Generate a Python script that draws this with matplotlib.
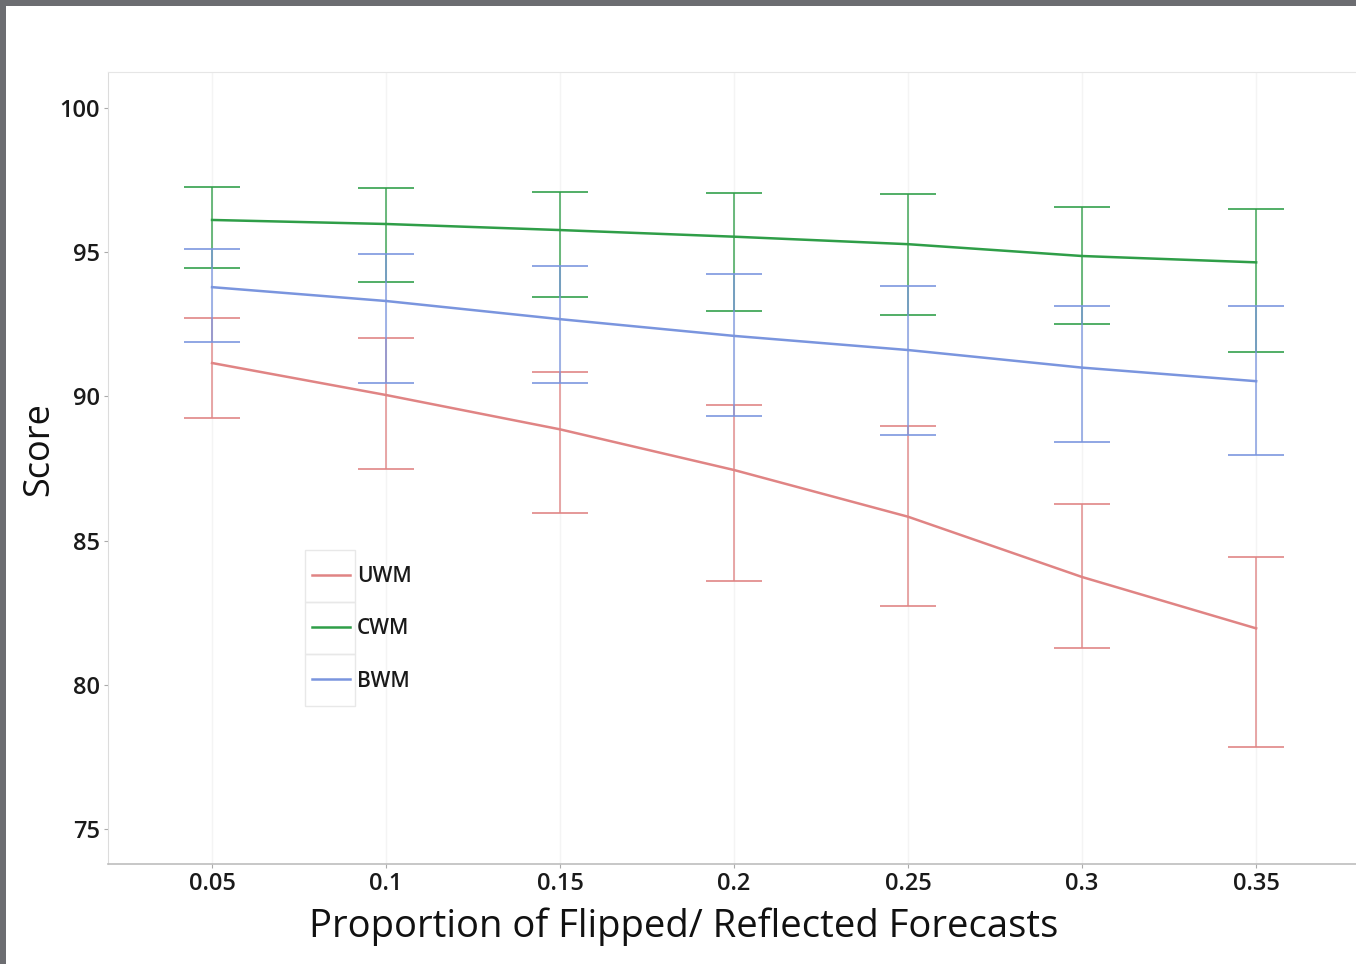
import matplotlib
matplotlib.use("Agg")
import matplotlib.pyplot as plt
from matplotlib.patches import Rectangle

# ---- data ----
proportions = [0.05, 0.10, 0.15, 0.20, 0.25, 0.30, 0.35]
tick_labels = ["0.05", "0.1", "0.15", "0.2", "0.25", "0.3", "0.35"]

uwm_mean  = [91.16, 90.05, 88.86, 87.45, 85.83, 83.74, 81.96]
uwm_upper = [92.72, 92.03, 90.85, 89.69, 88.96, 86.27, 84.44]
uwm_lower = [89.25, 87.48, 85.97, 83.59, 82.74, 81.29, 77.83]

cwm_mean  = [96.12, 95.98, 95.77, 95.54, 95.28, 94.87, 94.65]
cwm_upper = [97.26, 97.23, 97.09, 97.05, 97.02, 96.58, 96.49]
cwm_lower = [94.45, 93.97, 93.45, 92.95, 92.83, 92.53, 91.55]

bwm_mean  = [93.79, 93.31, 92.68, 92.10, 91.61, 91.00, 90.53]
bwm_upper = [95.11, 94.94, 94.52, 94.24, 93.82, 93.14, 93.12]
bwm_lower = [91.89, 90.46, 90.45, 89.31, 88.65, 88.41, 87.96]

series = [
    ("UWM", uwm_mean, uwm_lower, uwm_upper, "#e08484"),
    ("CWM", cwm_mean, cwm_lower, cwm_upper, "#2f9e48"),
    ("BWM", bwm_mean, bwm_lower, bwm_upper, "#7a95de"),
]

W, H = 1356, 964
fig = plt.figure(figsize=(W / 100, H / 100), dpi=100, facecolor="#6c6d71")
fig.add_artist(Rectangle((6 / W, 0), 1 - 6 / W, 1 - 6 / H, transform=fig.transFigure,
                         facecolor="white", edgecolor="none", zorder=-10))

ax = fig.add_axes([108 / W, 1 - 864 / H, 1 - 108 / W, (864 - 72) / H])
ax.set_facecolor("white")

handles = []
for name, m, lo, hi, c in series:
    yerr = [[mi - l for mi, l in zip(m, lo)], [h - mi for mi, h in zip(m, hi)]]
    ax.errorbar(proportions, m, yerr=yerr, fmt="none", ecolor=c, elinewidth=1.1,
                capsize=20, capthick=1.3, alpha=0.9, zorder=2)
    ln, = ax.plot(proportions, m, color=c, lw=1.8, zorder=3, label=name)
    handles.append(ln)

ax.set_xlim(0.0201, 0.3787)
ax.set_ylim(73.79, 101.25)
ax.set_xticks(proportions)
ax.set_xticklabels(tick_labels)
ax.set_yticks([75, 80, 85, 90, 95, 100])
ax.tick_params(axis="both", length=3, width=0.8, color="#aaaaaa", labelsize=17,
               labelcolor="#1a1a1a", pad=3)
for lab in ax.get_xticklabels() + ax.get_yticklabels():
    lab.set_family("Open Sans")
    lab.set_fontweight("semibold")

ax.grid(axis="x", color="#f4f4f4", lw=1.0, zorder=0)
ax.grid(axis="y", visible=False)
ax.spines["left"].set_color("#dcdcdc")
ax.spines["top"].set_color("#e6e6e6")
ax.spines["bottom"].set_color("#bdbdbd")
ax.spines["bottom"].set_linewidth(1.2)
ax.spines["right"].set_visible(False)

ax.set_xlabel("Proportion of Flipped/ Reflected Forecasts", fontsize=27.5,
              family="Open Sans", color="#111111")
ax.xaxis.set_label_coords((684 - 108) / 1248, -0.055)
ax.set_ylabel("Score", fontsize=26, family="Open Sans", color="#111111")
ax.yaxis.set_label_coords((57 - 108) / 1248, (864 - 449) / 792)

# legend
leg = ax.legend(handles=handles, loc="upper left",
                bbox_to_anchor=((312 - 108) / 1248, (864 - 566) / 792),
                frameon=False, handlelength=1.8, handletextpad=0.35,
                labelspacing=1.5, borderpad=0, borderaxespad=0,
                prop={"family": "Open Sans", "weight": "semibold", "size": 15})
for t in leg.get_texts():
    t.set_color("#1a1a1a")
for i in range(3):
    y0 = 550 + 52 * i
    fig.add_artist(Rectangle((305 / W, 1 - (y0 + 52) / H), 50 / W, 52 / H,
                             transform=fig.transFigure, facecolor="none",
                             edgecolor="#e8e8e8", lw=1.0, zorder=5))

fig.savefig("out.png", dpi=100, facecolor=fig.get_facecolor())
